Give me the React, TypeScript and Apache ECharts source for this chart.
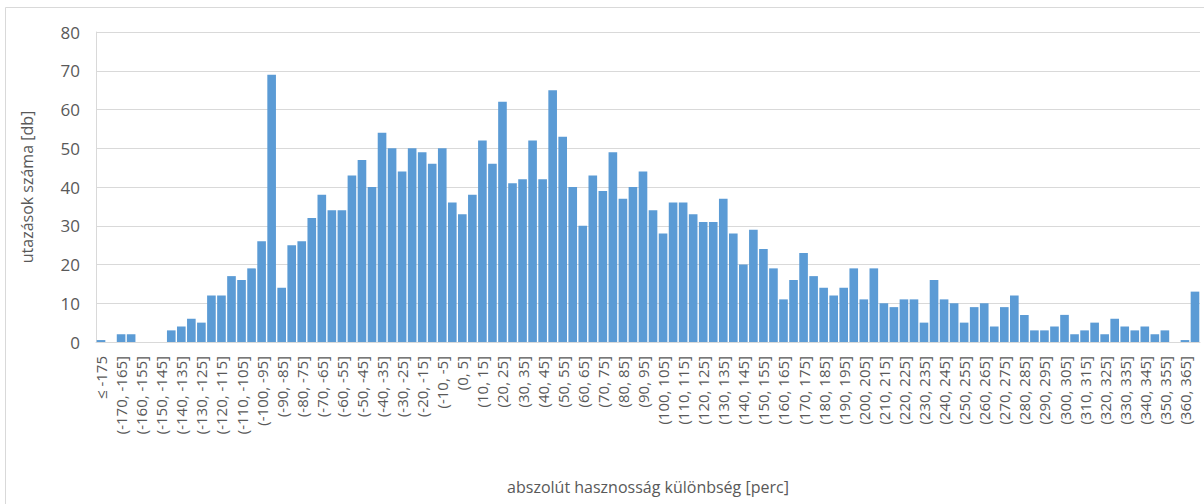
import React, { useEffect, useRef } from "react";
import * as echarts from "echarts";

const categories: string[] = [
  "≤ -175", "(-175, -170]", "(-170, -165]", "(-165, -160]", "(-160, -155]", "(-155, -150]",
  "(-150, -145]", "(-145, -140]", "(-140, -135]", "(-135, -130]", "(-130, -125]", "(-125, -120]",
  "(-120, -115]", "(-115, -110]", "(-110, -105]", "(-105, -100]", "(-100, -95]", "(-95, -90]",
  "(-90, -85]", "(-85, -80]", "(-80, -75]", "(-75, -70]", "(-70, -65]", "(-65, -60]",
  "(-60, -55]", "(-55, -50]", "(-50, -45]", "(-45, -40]", "(-40, -35]", "(-35, -30]",
  "(-30, -25]", "(-25, -20]", "(-20, -15]", "(-15, -10]", "(-10, -5]", "(-5, 0]",
  "(0, 5]", "(5, 10]", "(10, 15]", "(15, 20]", "(20, 25]", "(25, 30]",
  "(30, 35]", "(35, 40]", "(40, 45]", "(45, 50]", "(50, 55]", "(55, 60]",
  "(60, 65]", "(65, 70]", "(70, 75]", "(75, 80]", "(80, 85]", "(85, 90]",
  "(90, 95]", "(95, 100]", "(100, 105]", "(105, 110]", "(110, 115]", "(115, 120]",
  "(120, 125]", "(125, 130]", "(130, 135]", "(135, 140]", "(140, 145]", "(145, 150]",
  "(150, 155]", "(155, 160]", "(160, 165]", "(165, 170]", "(170, 175]", "(175, 180]",
  "(180, 185]", "(185, 190]", "(190, 195]", "(195, 200]", "(200, 205]", "(205, 210]",
  "(210, 215]", "(215, 220]", "(220, 225]", "(225, 230]", "(230, 235]", "(235, 240]",
  "(240, 245]", "(245, 250]", "(250, 255]", "(255, 260]", "(260, 265]", "(265, 270]",
  "(270, 275]", "(275, 280]", "(280, 285]", "(285, 290]", "(290, 295]", "(295, 300]",
  "(300, 305]", "(305, 310]", "(310, 315]", "(315, 320]", "(320, 325]", "(325, 330]",
  "(330, 335]", "(335, 340]", "(340, 345]", "(345, 350]", "(350, 355]", "(355, 360]",
  "(360, 365]", "> 365",
];

const counts: number[] = [
  0.5, 0, 2, 2, 0, 0, 0, 3, 4, 6, 5, 12,
  12, 17, 16, 19, 26, 69, 14, 25, 26, 32, 38, 34,
  34, 43, 47, 40, 54, 50, 44, 50, 49, 46, 50, 36,
  33, 38, 52, 46, 62, 41, 42, 52, 42, 65, 53, 40,
  30, 43, 39, 49, 37, 40, 44, 34, 28, 36, 36, 33,
  31, 31, 37, 28, 20, 29, 24, 19, 11, 16, 23, 17,
  14, 12, 14, 19, 11, 19, 10, 9, 11, 11, 5, 16,
  11, 10, 5, 9, 10, 4, 9, 12, 7, 3, 3, 4,
  7, 2, 3, 5, 2, 6, 4, 3, 4, 2, 3, 0,
  0.5, 13,
];

const yTitle = "utazások száma [db]";
const xTitle = "abszolút hasznosság különbség [perc]";

export default function App() {
  const ref = useRef<HTMLDivElement>(null);
  useEffect(() => {
    document.body.style.margin = "0";
    if (!ref.current) return;
    const chart = echarts.init(ref.current, null, { renderer: "svg" });
    const font = "'Open Sans', sans-serif";
    chart.setOption({
      animation: false,
      textStyle: { fontFamily: font },
      graphic: [
        {
          type: "rect",
          shape: { x: 5.5, y: 7.5, width: 1220, height: 520 },
          style: { fill: "none", stroke: "#d9d9d9", lineWidth: 1 },
          silent: true,
        },
      ],
      grid: { left: 96, right: 4, top: 32, bottom: 162 },
      xAxis: {
        type: "category",
        data: categories,
        name: xTitle,
        nameLocation: "middle",
        nameGap: 137,
        nameTextStyle: { color: "#595959", fontSize: 16, fontFamily: font },
        axisLine: { show: true, lineStyle: { color: "#d9d9d9", width: 1 } },
        axisTick: { show: false },
        axisLabel: {
          interval: 1,
          rotate: 90,
          margin: 14,
          color: "#595959",
          fontSize: 15,
          fontFamily: font,
        },
      },
      yAxis: {
        type: "value",
        min: 0,
        max: 80,
        interval: 10,
        name: yTitle,
        nameLocation: "middle",
        nameGap: 61,
        nameTextStyle: { color: "#595959", fontSize: 16, fontFamily: font },
        axisLine: { show: true, lineStyle: { color: "#d9d9d9", width: 1 } },
        axisTick: { show: false },
        axisLabel: { color: "#595959", fontSize: 17, margin: 16, fontFamily: font },
        splitLine: { lineStyle: { color: "#d9d9d9", width: 1 } },
      },
      series: [
        {
          type: "bar",
          data: counts,
          barCategoryGap: "14%",
          itemStyle: { color: "#5b9bd5" },
        },
      ],
    });
    return () => chart.dispose();
  }, []);
  return <div ref={ref} style={{ width: 1204, height: 504 }} />;
}
